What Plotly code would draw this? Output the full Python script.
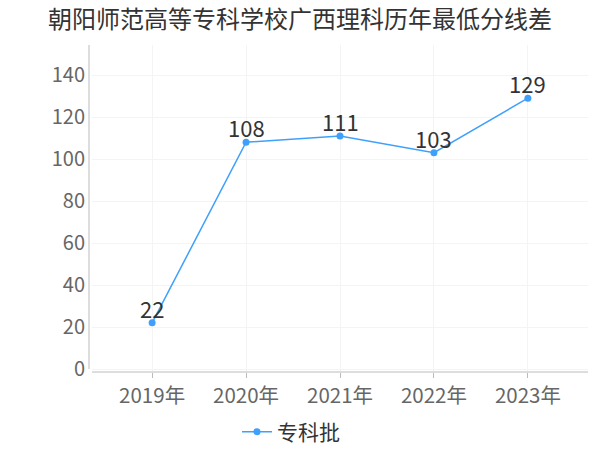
import plotly.graph_objects as go

years = ["2019年", "2020年", "2021年", "2022年", "2023年"]
values = [22, 108, 111, 103, 129]
series_name = "专科批"
title = "朝阳师范高等专科学校广西理科历年最低分线差"

font_family = "Noto Sans CJK SC, Noto Sans, sans-serif"
blue = "#3fa0fc"

fig = go.Figure()
fig.add_trace(go.Scatter(
    x=years, y=values, name=series_name,
    mode="lines+markers",
    line=dict(color=blue, width=1.5),
    marker=dict(color=blue, size=7),
    cliponaxis=False,
))

annotations = [
    dict(x=yr, y=v, xref="x", yref="y", text=str(v), showarrow=False,
         yshift=15, yanchor="middle", xanchor="center",
         font=dict(size=22, color="#333333", family=font_family))
    for yr, v in zip(years, values)
]

fig.update_layout(
    width=600, height=450,
    margin=dict(l=92, r=12, t=45, b=78, autoexpand=False),
    paper_bgcolor="white", plot_bgcolor="white",
    font=dict(family=font_family, color="#666666"),
    title=dict(text=title, x=0.5, xanchor="center", y=1 - 20 / 450, yanchor="middle",
               font=dict(size=24, color="#333333", family=font_family)),
    showlegend=True,
    legend=dict(orientation="h", xref="container", yref="container",
                x=237 / 600, xanchor="left", y=1 - 432 / 450, yanchor="middle",
                font=dict(size=21, color="#333333", family=font_family)),
    xaxis=dict(type="category", range=[-0.64, 4.64], showgrid=True, gridcolor="#f4f4f4",
               showline=False, zeroline=False, ticks="outside", ticklen=5,
               tickcolor="#bbbbbb", tickfont=dict(size=20.5, color="#666666"),
               automargin=False),
    yaxis=dict(range=[-1.4, 154.3], dtick=20, showgrid=True, gridcolor="#f4f4f4",
               showline=False, zeroline=False, ticks="", ticklabelstandoff=6,
               tickfont=dict(size=20, color="#666666"), automargin=False),
    annotations=annotations,
    shapes=[
        dict(type="line", xref="paper", yref="paper", x0=-3/496, x1=-3/496, y0=0.009, y1=1.0,
             line=dict(color="#bbbbbb", width=1)),
        dict(type="line", xref="paper", yref="paper", x0=0, x1=1, y0=0, y1=0,
             line=dict(color="#bbbbbb", width=1)),
    ],
)

fig.write_html("out.html", config={"displayModeBar": False},
               post_script="document.body.style.margin='0';document.body.style.overflow='hidden';")
